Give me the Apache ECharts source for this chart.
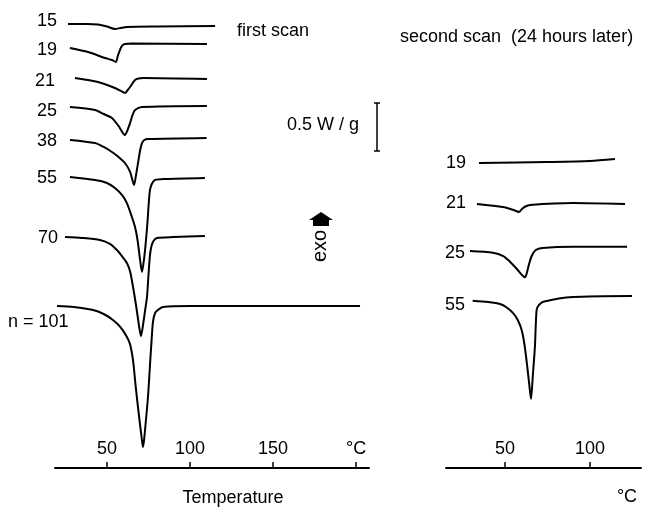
<!DOCTYPE html>
<html><head><meta charset="utf-8">
<script src="https://cdn.jsdelivr.net/npm/echarts@6/dist/echarts.min.js"></script>
<style>html,body{margin:0;padding:0;background:#fff}#c{width:651px;height:507px}</style>
</head><body><div id="c"></div>
<script>
// Temperature (°C), displayed heat-flow position (W/g, exo up)
const firstScanNames = ['15', '19', '21', '25', '38', '55', '70', 'n = 101'];
const first15 = [[26.5,4.625],[38,4.625],[44.6,4.620],[50,4.599],[54.8,4.573],[58,4.583],[62,4.594],[80,4.599],[115.1,4.604]];
const first19 = [[27.7,4.375],[38.6,4.333],[48.8,4.271],[53,4.25],[55.4,4.229],[56.5,4.292],[57.8,4.354],[59,4.396],[60.8,4.417],[65,4.422],[110.2,4.417]];
const first21 = [[30.7,4.0625],[44.6,4.021],[54.8,3.958],[58,3.932],[60.8,3.906],[62.5,3.9375],[63.9,3.969],[66.9,4.042],[69,4.057],[71.7,4.0625],[110.2,4.052]];
const first25 = [[27.7,3.760],[42.8,3.729],[48,3.6875],[53,3.646],[57,3.5625],[60.8,3.469],[62.4,3.521],[63.9,3.594],[65.4,3.677],[66.9,3.729],[71.1,3.760],[110.2,3.771]];
const first38 = [[27.7,3.417],[42.8,3.385],[48,3.344],[53,3.292],[57,3.240],[60.8,3.177],[64,3.083],[66.3,2.948],[67.5,3.052],[68.7,3.177],[70,3.3125],[71.1,3.385],[72.5,3.417],[74.7,3.427],[110,3.4375]];
const first55 = [[27.7,3.031],[42.8,3.0],[50,2.969],[54.8,2.917],[59,2.844],[62,2.760],[65,2.615],[66.9,2.510],[68.4,2.375],[69.8,2.1875],[71.1,2.042],[72.4,2.1875],[73.5,2.375],[74.4,2.5625],[75.3,2.792],[75.9,2.896],[77,2.958],[78.9,3.0],[85,3.010],[109,3.021]];
const first70 = [[24.7,2.406],[35,2.396],[45.8,2.375],[52,2.333],[56,2.271],[59,2.208],[62,2.135],[64,2.042],[65.7,1.885],[67,1.75],[68.1,1.625],[69.3,1.479],[70.5,1.375],[71.8,1.5],[73,1.646],[74.1,1.781],[75,2.010],[75.9,2.219],[76.8,2.3125],[78,2.365],[80.1,2.396],[90,2.406],[109,2.417]];
const first101 = [[19.9,1.6875],[30,1.677],[41.6,1.646],[48,1.604],[53.6,1.542],[58,1.469],[62,1.365],[63.9,1.290],[65.7,1.120],[67.2,0.865],[69.3,0.540],[71.0,0.300],[71.7,0.219],[72.4,0.300],[73.2,0.448],[74.7,0.740],[75.9,1.073],[76.8,1.3125],[77.7,1.521],[79,1.615],[80.7,1.646],[83.7,1.677],[100,1.6875],[202.4,1.6875]];

const secondScanNames = ['19', '21', '25', '55'];
const second19 = [[34.7,3.177],[75,3.1875],[100,3.198],[114.7,3.219]];
const second21 = [[33.5,2.75],[48.8,2.719],[55,2.6875],[58.2,2.667],[60,2.698],[62,2.724],[64.7,2.740],[90,2.760],[120.6,2.75]];
const second25 = [[29.4,2.260],[42.9,2.243],[49,2.208],[52.9,2.149],[57,2.073],[60,2.010],[61.8,1.986],[63,2.042],[64,2.115],[65.7,2.208],[68.1,2.271],[72,2.292],[90,2.305],[121.8,2.305]];
const second55 = [[31,1.743],[40,1.729],[47.1,1.708],[51,1.672],[54.9,1.611],[57.5,1.542],[59.8,1.4375],[61.5,1.281],[63.1,1.055],[64.3,0.865],[65.3,0.719],[66.4,0.969],[67.6,1.264],[68.6,1.646],[70,1.698],[72.5,1.732],[90,1.781],[124.7,1.792]];

const firstTicks = [50, 100, 150, 200];
const firstTickLabels = ['50', '100', '150', '°C'];
const secondTicks = [50, 100];
const secondTickLabels = ['50', '100'];

const firstData = [first15, first19, first21, first25, first38, first55, first70, first101];
const secondData = [second19, second21, second25, second55];

const FONT = '"Liberation Sans", Arial, sans-serif';
const chart = echarts.init(document.getElementById('c'));

function lineSeries(name, data, idx) {
  return {
    type: 'line', name: name, data: data, xAxisIndex: idx, yAxisIndex: idx,
    showSymbol: false, smooth: 0.25, silent: true,
    lineStyle: { color: '#000', width: 2 }
  };
}
function xAx(idx, min, max, ticks, labels) {
  return {
    type: 'value', gridIndex: idx, min: min, max: max, position: 'bottom',
    axisLine: { show: true, lineStyle: { color: '#000', width: 2 } },
    axisTick: { show: true, inside: true, length: 6, customValues: ticks, lineStyle: { color: '#000', width: 1.5 } },
    axisLabel: { show: true, inside: true, margin: 10, customValues: ticks, color: '#000', fontSize: 18, fontFamily: FONT,
      formatter: function (v) { const i = ticks.indexOf(v); return i >= 0 ? labels[i] : ''; } },
    splitLine: { show: false }
  };
}
function txt(text, x, y, align, extra, size) {
  return Object.assign({ type: 'text', x: x, y: y, silent: true,
    style: { text: text, align: align || 'left', verticalAlign: 'middle', font: (size || 18) + 'px ' + FONT, fill: '#000' } }, extra || {});
}

const graphics = [];
const firstLabelPos = [[57,21],[57,50],[55,81],[57,111],[57,141],[57,178],[58,238]];
firstLabelPos.forEach((p, i) => graphics.push(txt(firstScanNames[i], p[0], p[1], 'right')));
graphics.push(txt(firstScanNames[7], 8, 322, 'left'));
const secondLabelPos = [[466,163],[466,203],[465,253],[465,305]];
secondLabelPos.forEach((p, i) => graphics.push(txt(secondScanNames[i], p[0], p[1], 'right')));
graphics.push(txt('first scan', 237, 31, 'left'));
graphics.push(txt('second scan  (24 hours later)', 400, 37, 'left'));
graphics.push(txt('0.5 W / g', 287, 125, 'left'));
graphics.push(txt('Temperature', 233, 498, 'center'));
graphics.push(txt('°C', 627, 497, 'center'));
graphics.push(txt('exo', 320, 246, 'center', { rotation: Math.PI / 2 }, 20));
// scale bar
graphics.push({ type: 'line', silent: true, shape: { x1: 377, y1: 103, x2: 377, y2: 151 }, style: { stroke: '#000', lineWidth: 1.5 } });
graphics.push({ type: 'line', silent: true, shape: { x1: 374, y1: 103, x2: 380, y2: 103 }, style: { stroke: '#000', lineWidth: 1.5 } });
graphics.push({ type: 'line', silent: true, shape: { x1: 374, y1: 151, x2: 380, y2: 151 }, style: { stroke: '#000', lineWidth: 1.5 } });
// exo arrow
graphics.push({ type: 'polygon', silent: true, shape: { points: [[321,212],[333,220],[329,220],[329,226],[313,226],[313,220],[309,220]] }, style: { fill: '#000' } });

chart.setOption({
  animation: false,
  backgroundColor: '#fff',
  grid: [
    { left: 55, width: 314, top: 0, height: 468 },
    { left: 446, width: 195, top: 0, height: 468 }
  ],
  xAxis: [
    xAx(0, 18.7, 207.8, firstTicks, firstTickLabels),
    xAx(1, 15.3, 130, secondTicks, secondTickLabels)
  ],
  yAxis: [
    { type: 'value', gridIndex: 0, min: 0, max: 4.875, show: false, splitLine: { show: false } },
    { type: 'value', gridIndex: 1, min: 0, max: 4.875, show: false, splitLine: { show: false } }
  ],
  series: firstData.map((d, i) => lineSeries('first ' + firstScanNames[i], d, 0))
    .concat(secondData.map((d, i) => lineSeries('second ' + secondScanNames[i], d, 1))),
  graphic: graphics
});
</script>
</body></html>
